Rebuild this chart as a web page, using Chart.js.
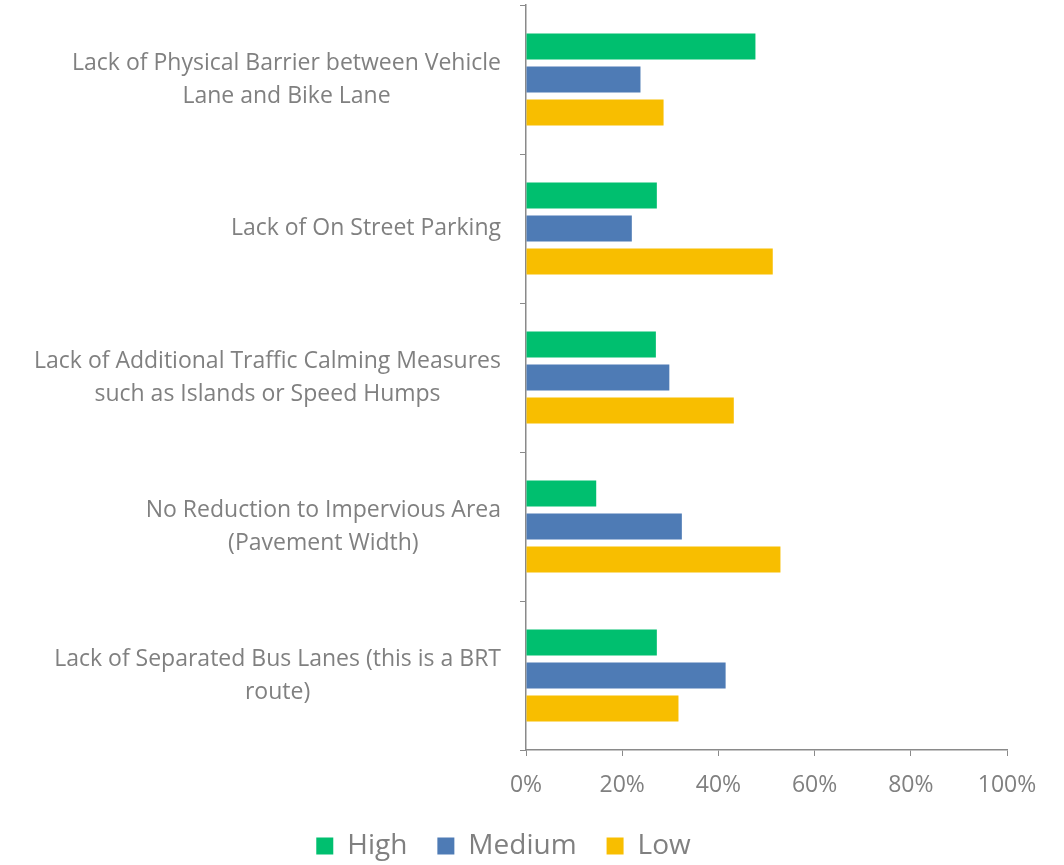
<!DOCTYPE html>
<html>
<head>
<meta charset="utf-8">
<script src="https://cdn.jsdelivr.net/npm/chart.js@4.4.1/dist/chart.umd.min.js"></script>
<style>
    html, body { margin: 0; padding: 0; background: #ffffff; }
    #wrap { width: 1064px; height: 865px; }
</style>
</head>
<body>
<div id="wrap"><canvas id="barChart" width="1064" height="865"></canvas></div>
<script>
// Data (percent of responses)
const categories = [
    ['Lack of Physical Barrier between Vehicle', 'Lane and Bike Lane'],
    ['Lack of On Street Parking'],
    ['Lack of Additional Traffic Calming Measures', 'such as Islands or Speed Humps'],
    ['No Reduction to Impervious Area', '(Pavement Width)'],
    ['Lack of Separated Bus Lanes (this is a BRT', 'route)']
];
const seriesNames = ['High', 'Medium', 'Low'];
const highValues = [47.7, 27.2, 27.0, 14.6, 27.2];
const mediumValues = [23.8, 22.0, 29.8, 32.4, 41.5];
const lowValues = [28.6, 51.3, 43.2, 52.9, 31.7];
const xTicks = [0, 20, 40, 60, 80, 100];

const TEXT = '#808080';
const AXIS = '#8a8a8a';
const FONT = "'Open Sans', 'Liberation Sans', sans-serif";

// Category labels: block right-aligned to the axis, lines centred inside the block
const categoryLabels = {
    id: 'categoryLabels',
    afterDraw(chart) {
        const { ctx } = chart;
        const yScale = chart.scales.y;
        const right = chart.chartArea.left - 25;
        const lineH = 33;
        ctx.save();
        ctx.font = `23px ${FONT}`;
        ctx.fillStyle = TEXT;
        ctx.textAlign = 'center';
        ctx.textBaseline = 'middle';
        categories.forEach((lines, i) => {
            const yc = yScale.getPixelForTick(i);
            const w = Math.max(...lines.map(l => ctx.measureText(l).width));
            const xc = right - w / 2;
            lines.forEach((line, j) => {
                const y = yc + (j - (lines.length - 1) / 2) * lineH;
                ctx.fillText(line, xc, y);
            });
        });
        ctx.restore();
    }
};

const ctx = document.getElementById('barChart').getContext('2d');
new Chart(ctx, {
    type: 'bar',
    data: {
        labels: categories.map(c => c.join(' ')),
        datasets: [
            { label: seriesNames[0], data: highValues, backgroundColor: '#00bf6f' },
            { label: seriesNames[1], data: mediumValues, backgroundColor: '#4e7bb5' },
            { label: seriesNames[2], data: lowValues, backgroundColor: '#f8be00' }
        ]
    },
    options: {
        indexAxis: 'y',
        responsive: false,
        animation: false,
        categoryPercentage: 0.664,
        barPercentage: 0.79,
        layout: { padding: { top: 5, right: 57, left: 0, bottom: 0 } },
        plugins: {
            legend: {
                position: 'bottom',
                maxHeight: 63,
                labels: {
                    color: TEXT,
                    font: { family: FONT, size: 28 },
                    boxWidth: 17,
                    boxHeight: 17,
                    padding: 30
                }
            },
            tooltip: { enabled: false }
        },
        scales: {
            x: {
                min: 0,
                max: 100,
                afterBuildTicks: scale => { scale.ticks = xTicks.map(v => ({ value: v })); },
                afterFit: scale => { scale.height = 52; },
                ticks: {
                    color: TEXT,
                    font: { family: FONT, size: 23 },
                    padding: 16,
                    callback: v => v + '%'
                },
                grid: { drawOnChartArea: false, tickLength: 6, color: AXIS },
                border: { color: AXIS, width: 1.5 }
            },
            y: {
                afterFit: scale => { scale.width = 526; },
                ticks: { display: false },
                grid: { drawOnChartArea: false, offset: true, tickLength: 6, color: AXIS },
                border: { color: AXIS, width: 1.5 }
            }
        }
    },
    plugins: [categoryLabels]
});
</script>
</body>
</html>
